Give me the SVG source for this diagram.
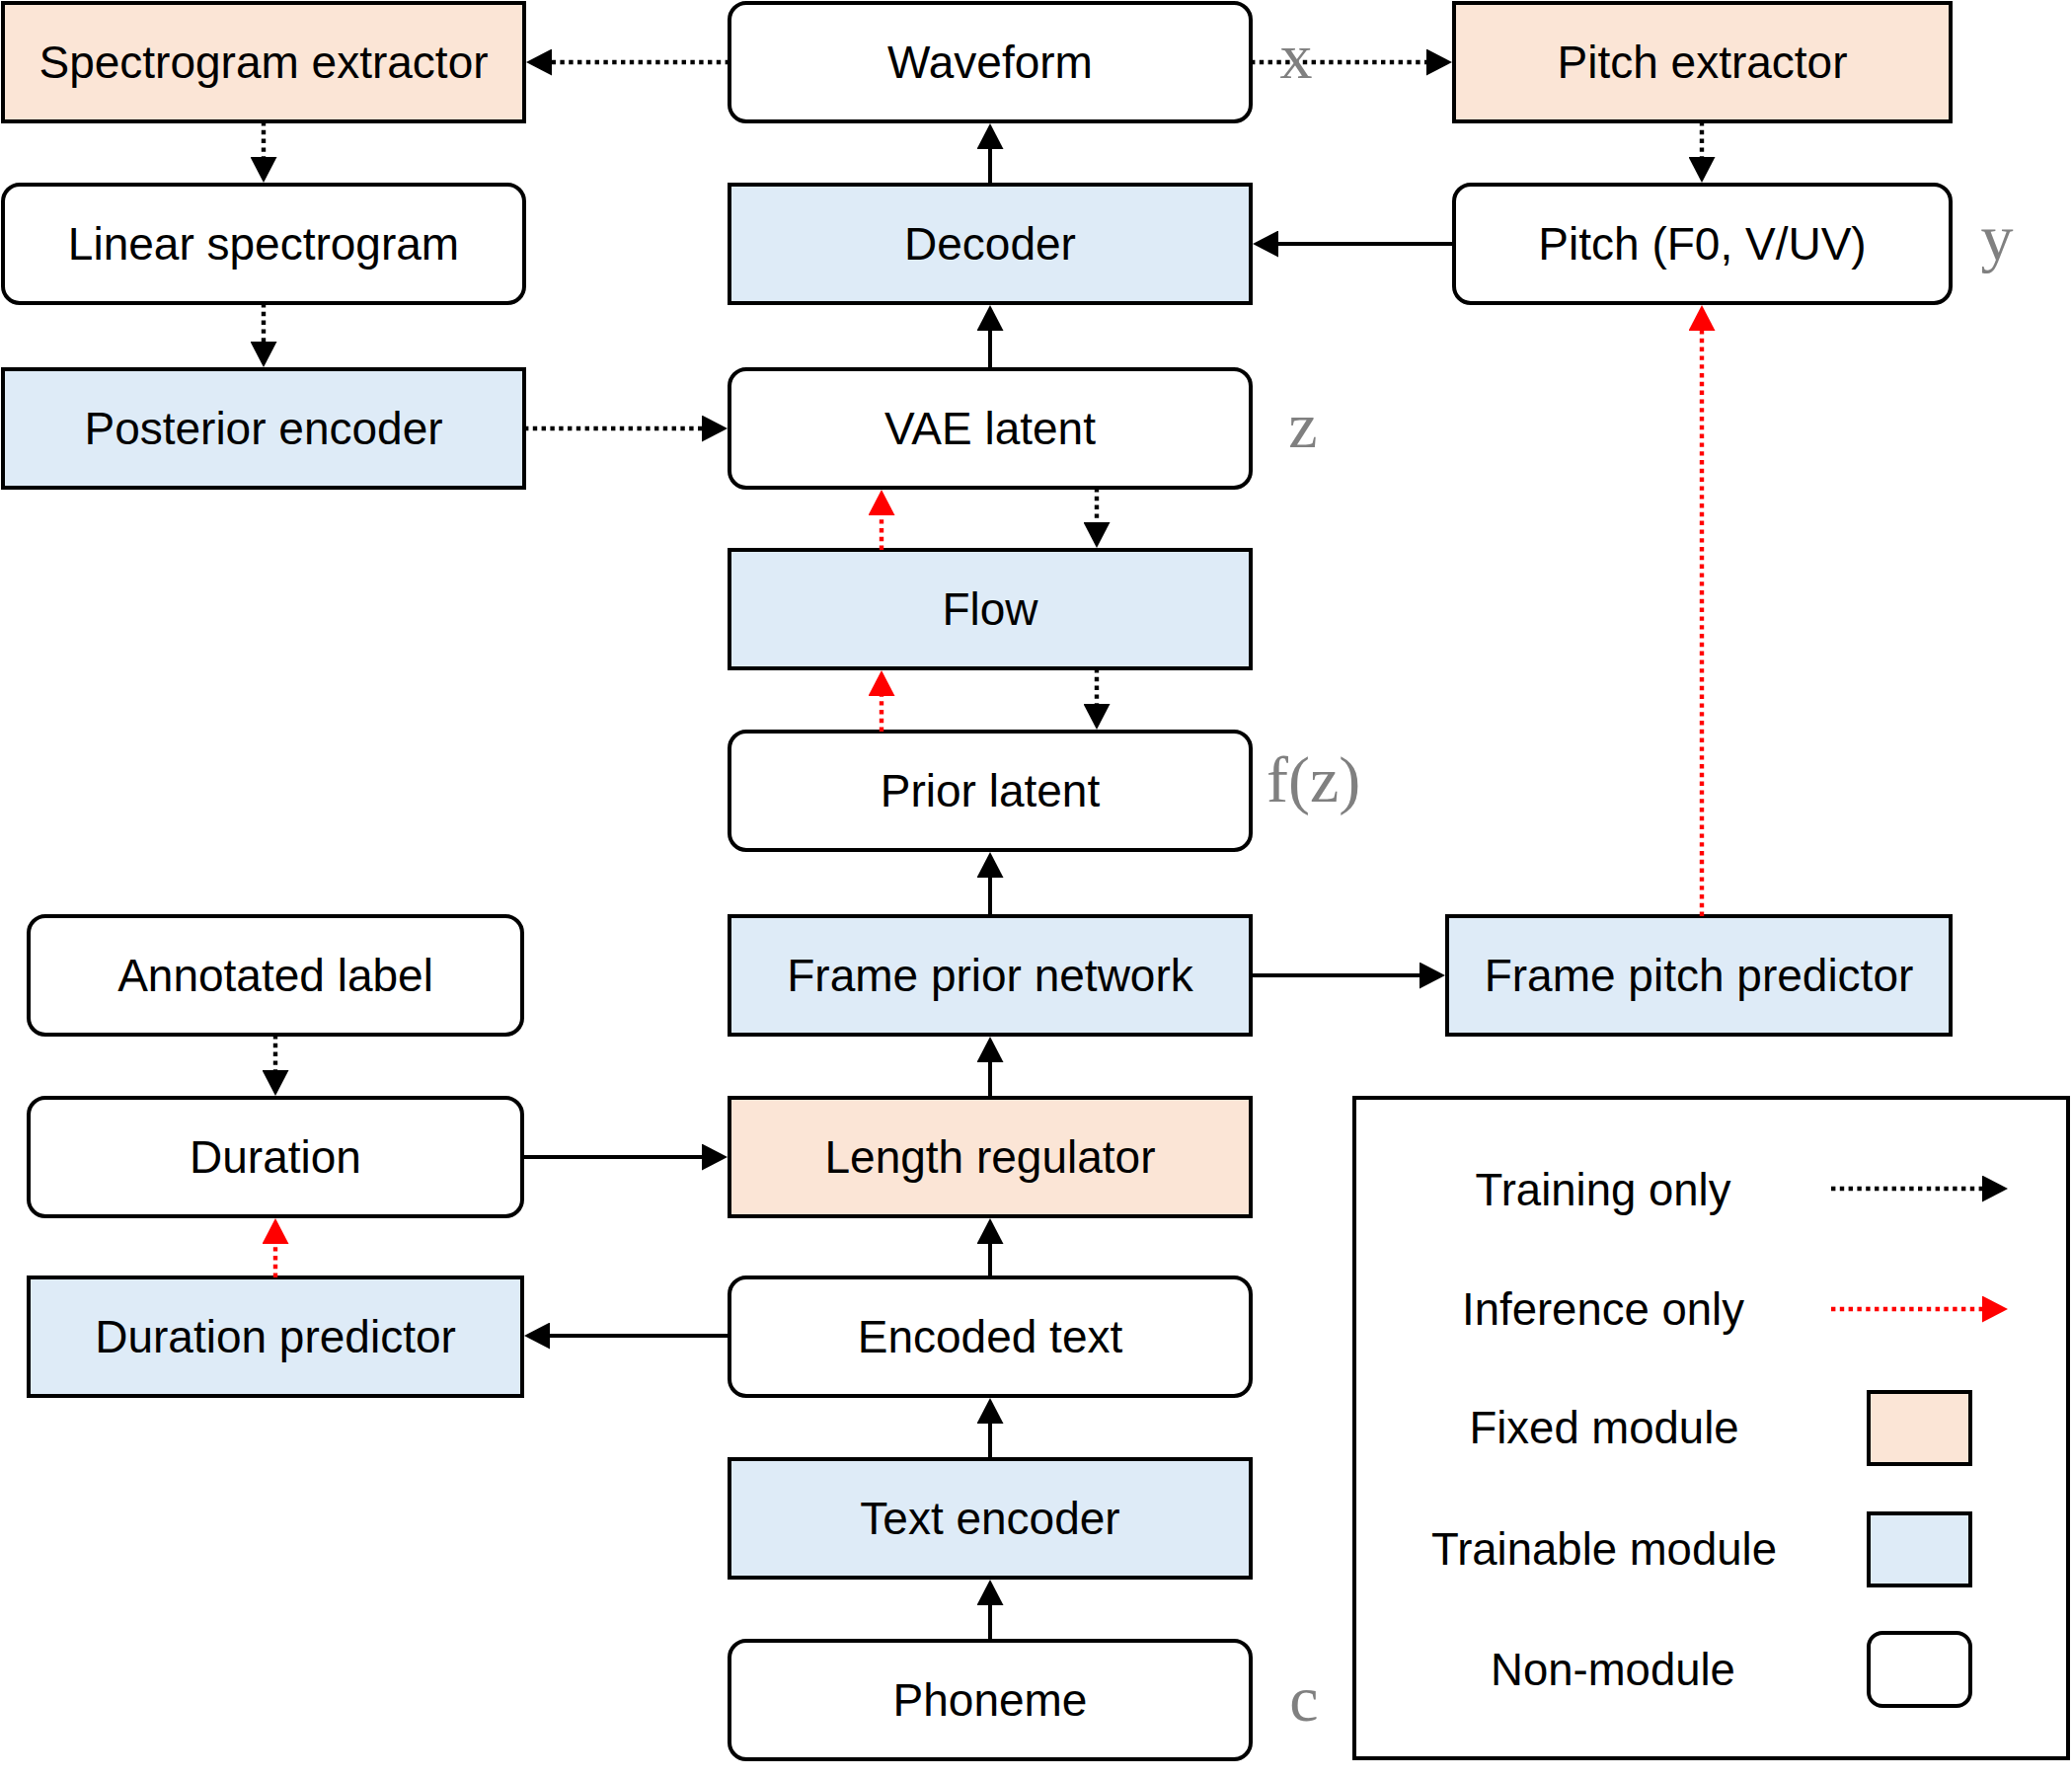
<svg xmlns="http://www.w3.org/2000/svg" width="2099" height="1801" viewBox="0 0 2099 1801">
<style>
.box{stroke:#000;stroke-width:4}
.fixed{fill:#FBE5D6}
.train{fill:#DEEBF7}
.non{fill:#fff}
.lbl{font-family:"Liberation Sans",Arial,Helvetica,sans-serif;font-size:46px;fill:#000;text-anchor:middle}
.leg{font-family:"Liberation Sans",Arial,Helvetica,sans-serif;font-size:45.5px;fill:#000;text-anchor:middle}
.var{font-family:"Liberation Serif","Times New Roman",serif;font-size:66px;fill:#808080}
.solid{fill:none;stroke:#000;stroke-width:4;marker-end:url(#ah)}
.dot{fill:none;stroke:#000;stroke-width:4.4;stroke-dasharray:4.4 4.4;marker-end:url(#ah)}
.rdot{fill:none;stroke:#FF0000;stroke-width:4.4;stroke-dasharray:4.4 4.4;marker-end:url(#ahr)}
</style>
<defs>
<marker id="ah" markerUnits="userSpaceOnUse" viewBox="0 0 26 27" refX="0" refY="13.5" markerWidth="26" markerHeight="27" orient="auto"><path d="M0,0 L26,13.5 L0,27 Z" fill="#000"/></marker>
<marker id="ahr" markerUnits="userSpaceOnUse" viewBox="0 0 26 27" refX="0" refY="13.5" markerWidth="26" markerHeight="27" orient="auto"><path d="M0,0 L26,13.5 L0,27 Z" fill="#FF0000"/></marker>
</defs>
<rect width="2099" height="1801" fill="#fff"/>

<g id="spectrogram-extractor"><rect class="box fixed" x="3" y="3" width="528" height="120"/><text class="lbl" x="267" y="79">Spectrogram extractor</text></g>
<g id="waveform"><rect class="box non" x="739" y="3" width="528" height="120" rx="17"/><text class="lbl" x="1003" y="79">Waveform</text></g>
<g id="pitch-extractor"><rect class="box fixed" x="1473" y="3" width="503" height="120"/><text class="lbl" x="1724.5" y="79">Pitch extractor</text></g>

<g id="linear-spectrogram"><rect class="box non" x="3" y="187" width="528" height="120" rx="17"/><text class="lbl" x="267" y="263">Linear spectrogram</text></g>
<g id="decoder"><rect class="box train" x="739" y="187" width="528" height="120"/><text class="lbl" x="1003" y="263">Decoder</text></g>
<g id="pitch"><rect class="box non" x="1473" y="187" width="503" height="120" rx="17"/><text class="lbl" x="1724.5" y="263">Pitch (F0, V/UV)</text></g>

<g id="posterior-encoder"><rect class="box train" x="3" y="374" width="528" height="120"/><text class="lbl" x="267" y="450">Posterior encoder</text></g>
<g id="vae-latent"><rect class="box non" x="739" y="374" width="528" height="120" rx="17"/><text class="lbl" x="1003" y="450">VAE latent</text></g>

<g id="flow"><rect class="box train" x="739" y="557" width="528" height="120"/><text class="lbl" x="1003" y="633">Flow</text></g>

<g id="prior-latent"><rect class="box non" x="739" y="741" width="528" height="120" rx="17"/><text class="lbl" x="1003" y="817">Prior latent</text></g>

<g id="annotated-label"><rect class="box non" x="29" y="928" width="500" height="120" rx="17"/><text class="lbl" x="279" y="1004">Annotated label</text></g>
<g id="frame-prior-network"><rect class="box train" x="739" y="928" width="528" height="120"/><text class="lbl" x="1003" y="1004">Frame prior network</text></g>
<g id="frame-pitch-predictor"><rect class="box train" x="1466" y="928" width="510" height="120"/><text class="lbl" x="1721" y="1004">Frame pitch predictor</text></g>

<g id="duration"><rect class="box non" x="29" y="1112" width="500" height="120" rx="17"/><text class="lbl" x="279" y="1188">Duration</text></g>
<g id="length-regulator"><rect class="box fixed" x="739" y="1112" width="528" height="120"/><text class="lbl" x="1003" y="1188">Length regulator</text></g>

<g id="duration-predictor"><rect class="box train" x="29" y="1294" width="500" height="120"/><text class="lbl" x="279" y="1370">Duration predictor</text></g>
<g id="encoded-text"><rect class="box non" x="739" y="1294" width="528" height="120" rx="17"/><text class="lbl" x="1003" y="1370">Encoded text</text></g>

<g id="text-encoder"><rect class="box train" x="739" y="1478" width="528" height="120"/><text class="lbl" x="1003" y="1554">Text encoder</text></g>
<g id="phoneme"><rect class="box non" x="739" y="1662" width="528" height="120" rx="17"/><text class="lbl" x="1003" y="1738">Phoneme</text></g>

<g id="connectors">
<path class="solid" d="M1003,187 V151"/>
<path class="solid" d="M1003,374 V335"/>
<path class="solid" d="M1003,928 V889"/>
<path class="solid" d="M1003,1112 V1076"/>
<path class="solid" d="M1003,1294 V1260"/>
<path class="solid" d="M1003,1478 V1442"/>
<path class="solid" d="M1003,1662 V1626"/>
<path class="solid" d="M1473,247 H1295"/>
<path class="solid" d="M1267,988 H1438"/>
<path class="solid" d="M529,1172 H711"/>
<path class="solid" d="M739,1353 H557"/>
<path class="dot" d="M739,63 H559"/>
<path class="dot" d="M1267,63 H1445"/>
<path class="dot" d="M267,123 V159"/>
<path class="dot" d="M267,307 V346"/>
<path class="dot" d="M1724,123 V159"/>
<path class="dot" d="M531,434 H711"/>
<path class="dot" d="M1111,494 V529"/>
<path class="dot" d="M1111,677 V713"/>
<path class="dot" d="M279,1048 V1084"/>
<path class="rdot" d="M893,557 V522"/>
<path class="rdot" d="M893,741 V705"/>
<path class="rdot" d="M1724,928 V335"/>
<path class="rdot" d="M279,1294 V1260"/>
</g>

<g id="variables">
<text class="var" x="1313" y="79" text-anchor="middle">x</text>
<text class="var" x="2023" y="263" text-anchor="middle">y</text>
<text class="var" x="1320" y="453" text-anchor="middle">z</text>
<text class="var" x="1283" y="812">f(z)</text>
<text class="var" x="1321" y="1743" text-anchor="middle">c</text>
</g>

<g id="legend">
<rect x="1372" y="1112" width="723" height="669" fill="none" stroke="#000" stroke-width="4"/>
<text class="leg" x="1624" y="1221">Training only</text>
<path class="dot" d="M1855,1204 H2008"/>
<text class="leg" x="1624" y="1342">Inference only</text>
<path class="rdot" d="M1855,1326 H2008"/>
<text class="leg" x="1625" y="1462">Fixed module</text>
<rect class="box fixed" x="1893" y="1410" width="103" height="73"/>
<text class="leg" x="1625" y="1585">Trainable module</text>
<rect class="box train" x="1893" y="1533" width="103" height="73"/>
<text class="leg" x="1634" y="1707">Non-module</text>
<rect class="box non" x="1893" y="1654" width="103" height="74" rx="14"/>
</g>
</svg>
